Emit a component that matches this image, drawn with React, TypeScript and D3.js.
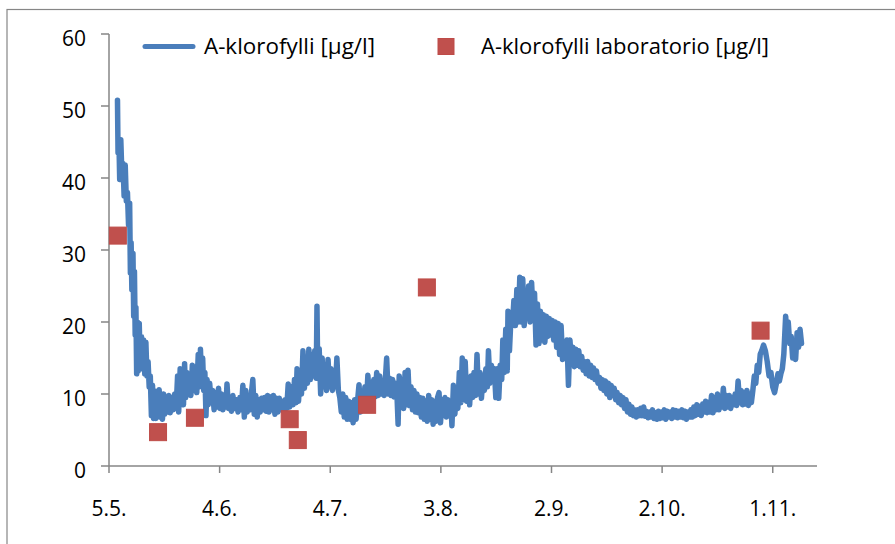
import * as d3 from 'd3';
import {useMemo} from 'react';

const WIDTH = 895;
const HEIGHT = 544;

// days counted from 5.5.
const tickDays = [0, 30, 60, 90, 120, 150, 180];
const tickLabels = ['5.5.', '4.6.', '4.7.', '3.8.', '2.9.', '2.10.', '1.11.'];
const yTicks = [0, 10, 20, 30, 40, 50, 60];

// sensor series [day, µg/l]
const sensorSeries: [number, number][] = [
  [2.3, 50.8], [2.45, 43.5], [2.7, 45], [2.9, 39.8], [3.2, 45.3], [3.5, 40.5], [3.8, 42], [4.1, 37.5],
  [4.4, 41.8], [4.7, 36.8], [5.0, 38], [5.3, 33.5], [5.6, 36.5], [5.8, 26.8], [6.0, 31], [6.2, 24.5],
  [6.5, 29.5], [6.7, 20.8], [6.9, 27], [7.1, 18.2], [7.3, 22], [7.5, 12.8], [7.7, 20], [7.9, 13.2],
  [8.2, 19.8], [8.5, 13.5], [8.8, 18], [9.1, 14], [9.4, 17.5], [9.7, 12.8], [10.0, 17.2], [10.3, 12.5],
  [10.6, 14.5], [10.9, 11], [11.2, 12.5], [11.5, 7], [11.8, 11.2], [12.1, 6.6],
  [12.4, 10.4], [12.7, 6.6], [13.0, 9.8], [13.3, 7], [13.6, 10.6], [13.9, 6.8], [14.2, 9.5], [14.5, 6.5],
  [14.8, 10], [15.1, 7.2], [15.5, 9.2], [15.8, 7.5], [16.2, 9.8], [16.6, 7.4], [17.0, 9.5], [17.4, 7.8],
  [17.8, 10], [18.2, 8], [18.6, 12.5], [18.9, 7.5],
  [19.3, 13.5], [19.6, 9], [19.9, 12], [20.2, 8.5], [20.5, 14.2], [20.8, 9.5], [21.1, 13], [21.5, 10],
  [21.9, 12.8], [22.2, 9.8], [22.6, 14], [23.0, 10.5], [23.4, 13.8], [23.8, 10.2], [24.2, 15.5], [24.6, 11],
  [24.8, 16.2], [25.1, 12], [25.4, 15], [25.7, 10.5], [26.0, 13], [26.3, 7], [26.6, 12],
  [26.9, 8.5], [27.3, 11.5], [27.7, 8.8], [28.1, 10.5], [28.5, 7.8], [28.9, 10.2], [29.3, 8.2], [29.7, 10.8],
  [30.1, 8], [30.5, 10], [30.9, 7.8], [31.3, 9.8], [31.7, 8.2], [32.0, 11.4], [32.4, 8], [32.8, 9.5],
  [33.2, 7.6], [33.6, 9.8], [34.0, 8], [34.5, 9.2], [35.0, 7.5], [35.5, 9.5], [35.9, 7.8], [36.3, 11.2],
  [36.7, 6.8], [37.1, 10.5], [37.5, 7.5], [37.9, 9], [38.3, 7.8], [38.7, 10.5], [39.0, 12], [39.4, 7.2],
  [39.8, 9.8], [40.2, 6.8], [40.6, 9.2], [41.0, 7.5], [41.4, 9.4], [41.8, 7.8], [42.2, 9.5], [42.6, 7.6],
  [43.0, 9.8], [43.4, 7.5], [43.8, 9.6], [44.2, 7.8], [44.6, 9.8], [45.0, 7.2], [45.4, 9.4],
  [45.8, 7.5], [46.2, 9.4], [46.6, 7.8], [47.0, 9], [47.4, 7.6], [47.8, 9.2], [48.2, 8], [48.6, 11.4],
  [49.0, 8.2], [49.5, 11], [49.9, 8.5], [50.3, 12], [50.7, 8.8], [51.0, 13.5], [51.4, 9], [51.8, 12.8],
  [52.2, 10], [52.6, 16], [53.0, 10.8], [53.4, 15], [53.8, 11.5], [54.2, 16.2], [54.6, 12], [55.0, 15.5],
  [55.4, 12.5], [55.8, 16], [56.2, 12.2], [56.4, 22.2], [56.6, 13], [57.0, 16.3], [57.4, 10], [57.8, 15],
  [58.2, 11], [58.6, 14], [59.0, 10.5], [59.4, 14.8], [59.8, 11], [60.2, 13.5], [60.6, 10.5], [61.0, 13],
  [61.4, 11], [61.8, 15], [62.2, 10.5],
  [62.6, 9.5], [63.0, 7.5], [63.4, 10], [63.8, 6.8], [64.2, 9.5], [64.6, 6.5], [65.0, 9], [65.4, 6.5],
  [65.8, 8.8], [66.2, 6], [66.6, 9.2], [67.0, 6.5], [67.4, 9], [67.8, 11.3], [68.2, 7.5], [68.6, 10],
  [69.0, 8], [69.4, 11], [69.8, 8.5], [70.2, 12.6], [70.6, 9.5], [71.0, 11.5], [71.4, 9], [71.8, 12],
  [72.2, 9.6], [72.6, 13], [73.0, 9.8], [73.4, 12.5], [73.8, 10], [74.2, 11.8], [74.6, 9.8], [75.0, 12.5],
  [75.3, 15], [75.7, 10], [76.1, 12.2], [76.5, 9.8], [76.9, 12], [77.3, 9.6], [77.7, 11.5], [78.1, 9.8],
  [78.4, 5.8], [78.7, 12.5], [79.1, 8.5], [79.5, 12], [79.9, 8], [80.3, 13], [80.7, 8.5], [81.1, 13.3],
  [81.5, 8.4], [81.9, 11], [82.3, 7.8], [82.7, 10.5], [83.1, 7.5], [83.5, 10], [83.9, 7.4], [84.3, 9.5],
  [84.7, 6.8], [85.1, 9.4], [85.5, 6.5], [85.9, 9], [86.3, 6.2], [86.7, 9.8], [87.1, 6.5], [87.5, 9.2],
  [87.9, 5.8], [88.3, 9], [88.7, 6.2], [89.1, 9.5], [89.5, 10.2], [89.9, 6], [90.3, 9.2], [90.7, 7],
  [91.1, 9.5], [91.5, 6.8], [91.9, 9.2], [92.3, 7], [92.7, 9], [93.0, 5.6], [93.4, 11.2], [93.8, 7.2],
  [94.2, 10.5], [94.6, 8], [95.0, 13], [95.4, 8.8], [95.8, 15], [96.2, 9.2], [96.6, 14.5], [97.0, 9],
  [97.4, 12], [97.8, 8.5], [98.2, 12.5], [98.6, 9.5], [99.0, 13], [99.4, 9.8], [99.8, 15.5], [100.2, 10],
  [100.6, 13], [101.0, 9.4], [101.4, 12.5], [101.8, 10.5], [102.2, 13.5], [102.6, 11], [102.9, 16], [103.3, 11.5],
  [103.7, 14], [104.1, 12.5], [104.5, 13.5], [104.9, 9.5], [105.3, 13.5], [105.7, 9.4],
  [106.1, 14], [106.5, 12], [106.8, 17.5], [107.2, 13], [107.6, 19], [108.0, 13.2], [108.2, 21.5], [108.6, 16],
  [109.0, 20.5], [109.4, 19.5], [109.8, 23], [110.2, 19.5], [110.6, 24.5], [111.0, 20], [111.4, 26.2], [111.8, 20],
  [112.2, 26], [112.6, 19.5], [113.0, 23.5], [113.4, 20.5], [113.8, 25], [114.2, 20], [114.6, 25.5], [115.0, 21],
  [115.4, 24], [115.8, 16.8], [116.2, 22.5], [116.6, 17], [117.0, 21.5], [117.4, 17.5], [117.8, 21], [118.2, 17.2],
  [118.6, 20.8], [119.0, 18], [119.4, 20.5], [119.8, 18.2], [120.2, 20.2], [120.6, 17.5], [121.0, 20], [121.4, 16.5],
  [121.8, 19.8], [122.2, 15.5], [122.6, 19.5], [123.0, 14.8], [123.4, 17], [123.8, 15.5], [124.2, 17.5], [124.6, 11.2],
  [125.0, 17.5], [125.4, 14.5], [125.8, 16.5], [126.2, 13.8], [126.6, 16.2], [127.0, 14], [127.4, 16], [127.8, 13.8],
  [128.2, 15.2], [128.6, 13.3], [129.0, 14.5], [129.4, 12.8], [129.8, 14.5], [130.2, 12.5], [130.6, 14], [131.0, 12.3],
  [131.4, 13.6], [131.8, 12], [132.2, 13.2], [132.6, 11.5], [133.0, 12.3], [133.4, 10.8], [133.8, 12], [134.2, 10.5],
  [134.6, 11.8], [135.0, 10], [135.4, 11.5], [135.8, 9.5], [136.2, 11.2], [136.6, 9.8], [137.0, 10.8], [137.4, 9.2],
  [137.8, 10.2], [138.2, 8.8], [138.6, 9.8], [139.0, 8.5], [139.4, 9.5], [139.8, 8], [140.2, 9.2], [140.6, 7.5],
  [141.0, 8.6], [141.4, 7.2], [141.8, 8.2], [142.2, 7], [142.6, 7.8], [143.0, 6.8], [143.4, 7.8], [143.8, 7],
  [144.2, 8], [144.6, 7], [145.0, 8.2], [145.4, 6.9], [145.8, 7.6], [146.2, 6.7], [146.6, 7.5],
  [147.0, 6.8], [147.4, 7.8], [147.8, 6.6], [148.2, 7.4], [148.6, 6.5], [149.0, 7.6], [149.4, 6.6], [149.8, 7.5],
  [150.2, 6.7], [150.6, 7.8], [151.0, 6.5], [151.4, 7.6], [151.8, 6.8], [152.2, 7.5], [152.6, 6.6], [153.0, 7.8],
  [153.4, 6.8], [153.8, 7.7], [154.2, 6.7], [154.6, 7.6], [155.0, 6.8], [155.4, 7.8], [155.8, 6.7], [156.2, 7.6],
  [156.6, 6.5], [157.0, 7.5], [157.4, 6.8], [157.8, 7.8], [158.2, 6.8], [158.6, 8.2], [159.0, 7], [159.4, 8.5],
  [159.8, 7.2], [160.2, 8.3], [160.6, 7], [161.0, 8.6], [161.4, 7.5], [161.8, 9], [162.2, 7.4], [162.6, 8.8],
  [163.0, 7.5], [163.4, 9.8], [163.8, 7.4], [164.2, 9.5], [164.6, 7.8], [165.0, 10], [165.4, 7.8], [165.8, 9.5],
  [166.2, 8.2], [166.6, 10.8], [167.0, 8], [167.4, 9.8], [167.8, 8.2], [168.2, 9.8], [168.6, 8], [169.0, 9.5],
  [169.4, 8.5], [169.8, 10], [170.2, 8.4], [170.6, 11.8], [171.0, 8.8], [171.4, 10.5], [171.8, 8.5], [172.2, 10.2],
  [172.6, 8.6], [173.0, 10.5], [173.4, 8.4], [173.8, 10], [174.2, 8.8], [174.6, 10.5], [175.0, 12.5], [175.4, 11.5],
  [175.8, 14], [176.2, 13], [176.6, 15.5], [177.0, 16], [177.5, 16.8], [178.0, 16], [178.5, 14.5], [179.0, 12.5],
  [179.5, 13], [180.0, 11], [180.5, 10.2], [181.0, 11.5], [181.4, 12.8], [181.8, 11.8], [182.2, 12.8], [182.6, 13.5],
  [183.0, 15.5], [183.5, 20.8], [183.8, 18.5], [184.2, 20], [184.6, 17], [185.0, 18], [185.4, 15], [185.8, 17],
  [186.2, 14.8], [186.6, 18.5], [187.0, 16.5], [187.4, 19], [187.8, 17],
];

// laboratory samples
const labDays = [2.4, 13.3, 23.3, 49, 51.2, 70, 86.2, 176.7];
const labValues = [32, 4.7, 6.7, 6.5, 3.6, 8.5, 24.8, 18.8];

const FONT = "'Open Sans', sans-serif";
const AXIS = '#868686';
const BLUE = '#4A7EBB';
const RED = '#C0504D';
const FS = 21;

export default function App() {
  const x = useMemo(() => d3.scaleLinear().domain([0, 192]).range([109, 817]), []);
  const y = useMemo(() => d3.scaleLinear().domain([0, 60]).range([466, 34]), []);

  const path = useMemo(() => {
    const line = d3
      .line<[number, number]>()
      .x((d) => x(d[0]))
      .y((d) => y(d[1]))
      .curve(d3.curveLinear);
    return line(sensorSeries);
  }, [x, y]);

  const sq = 17;

  return (
    <svg
      width={WIDTH}
      height={HEIGHT}
      style={{position: 'absolute', left: 0, top: 0, background: '#fff'}}
      fontFamily={FONT}
    >
      <rect x={7} y={9.5} width={WIDTH + 10} height={HEIGHT + 10} fill="#fff" stroke={AXIS} strokeWidth={1.2} />

      {/* y axis */}
      <line x1={109} x2={109} y1={y(60)} y2={y(0)} stroke={AXIS} strokeWidth={1.5} />
      {yTicks.map((t) => (
        <g key={t}>
          <line x1={101} x2={109} y1={y(t)} y2={y(t)} stroke={AXIS} strokeWidth={1.5} />
          <text x={86} y={y(t) + 11.5} textAnchor="end" fontSize={FS}>{t}</text>
        </g>
      ))}

      {/* x axis */}
      <line x1={x(0)} x2={x(192)} y1={y(0)} y2={y(0)} stroke={AXIS} strokeWidth={1.5} />
      {tickDays.map((d, i) => (
        <g key={d}>
          <line x1={x(d)} x2={x(d)} y1={y(0)} y2={y(0) + 7} stroke={AXIS} strokeWidth={1.5} />
          <text x={x(d)} y={516} textAnchor="middle" fontSize={FS}>{tickLabels[i]}</text>
        </g>
      ))}

      <path d={path!} fill="none" stroke={BLUE} strokeWidth={5.5} strokeLinejoin="round" strokeLinecap="round" />

      {labDays.map((d, i) => (
        <rect
          key={i}
          x={x(d) - sq / 2}
          y={y(labValues[i]) - sq / 2}
          width={sq}
          height={sq}
          fill={RED}
          stroke="#BE4B48"
          strokeWidth={1}
        />
      ))}

      {/* legend */}
      <line x1={145} x2={193} y1={46.5} y2={46.5} stroke={BLUE} strokeWidth={5} strokeLinecap="round" />
      <text x={204} y={54} fontSize={FS} textLength={171} lengthAdjust="spacingAndGlyphs">A-klorofylli [µg/l]</text>
      <rect x={438} y={38.5} width={16} height={16} fill={RED} stroke="#BE4B48" />
      <text x={481} y={54} fontSize={FS} textLength={288} lengthAdjust="spacingAndGlyphs">A-klorofylli laboratorio [µg/l]</text>
    </svg>
  );
}
